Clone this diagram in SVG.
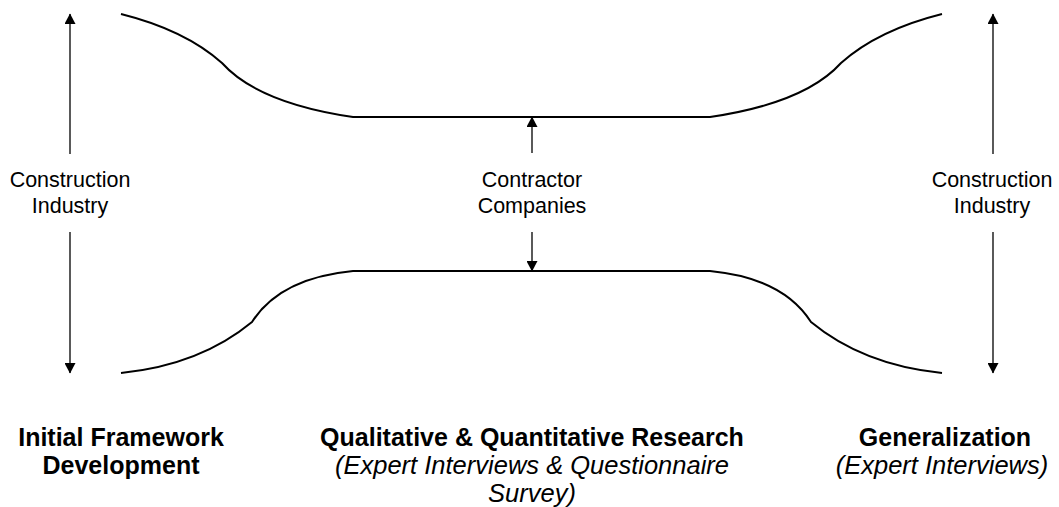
<svg xmlns="http://www.w3.org/2000/svg" width="1059" height="507" viewBox="0 0 1059 507">
  <defs>
    <marker id="ah" markerUnits="userSpaceOnUse" markerWidth="11" markerHeight="11" refX="10" refY="5.5" orient="auto" viewBox="0 0 11 11">
      <path d="M0,0 L10.5,5.5 L0,11 z" fill="#000"/>
    </marker>
    <style>
      .lbl { font-family: "Liberation Sans", Arial, sans-serif; font-size: 21.5px; fill: #000; text-anchor: middle; }
      .ttl { font-family: "Liberation Sans", Arial, sans-serif; font-size: 25px; font-weight: bold; fill: #000; text-anchor: middle; }
      .sub { font-family: "Liberation Sans", Arial, sans-serif; font-size: 25.5px; font-style: italic; fill: #000; text-anchor: middle; }
      .curve { fill: none; stroke: #000; stroke-width: 2; }
      .arr { fill: none; stroke: #000; stroke-width: 1.3; marker-end: url(#ah); }
    </style>
  </defs>
  <rect width="1059" height="507" fill="#fff"/>

  <g id="funnel">
    <path class="curve" d="M121,14 Q185,30 222,63 Q258,103 353,117 L710,117 Q805,103 841,63 Q878,30 942,14"/>
    <path class="curve" d="M121,373 Q200,365 252,322 Q280,278 353,271 L710,271 Q783,278 811,322 Q863,365 942,373"/>
  </g>

  <g id="connectors">
    <line class="arr" x1="70" y1="154" x2="70" y2="14"/>
    <line class="arr" x1="70" y1="232" x2="70" y2="373"/>
    <line class="arr" x1="532" y1="153" x2="532" y2="117"/>
    <line class="arr" x1="532" y1="232" x2="532" y2="271"/>
    <line class="arr" x1="993" y1="154" x2="993" y2="14"/>
    <line class="arr" x1="993" y1="232" x2="993" y2="373"/>
  </g>

  <g id="label-left">
    <text class="lbl" x="70" y="187">Construction</text>
    <text class="lbl" x="70" y="213">Industry</text>
  </g>
  <g id="label-middle">
    <text class="lbl" x="532" y="187">Contractor</text>
    <text class="lbl" x="532" y="213">Companies</text>
  </g>
  <g id="label-right">
    <text class="lbl" x="992" y="187">Construction</text>
    <text class="lbl" x="992" y="213">Industry</text>
  </g>

  <g id="phase-1">
    <text class="ttl" x="121" y="446">Initial Framework</text>
    <text class="ttl" x="121" y="474">Development</text>
  </g>
  <g id="phase-2">
    <text class="ttl" x="532" y="446">Qualitative &amp; Quantitative Research</text>
    <text class="sub" x="532" y="474">(Expert Interviews &amp; Questionnaire</text>
    <text class="sub" x="532" y="502">Survey)</text>
  </g>
  <g id="phase-3">
    <text class="ttl" x="945" y="446">Generalization</text>
    <text class="sub" x="942" y="474">(Expert Interviews)</text>
  </g>
</svg>
